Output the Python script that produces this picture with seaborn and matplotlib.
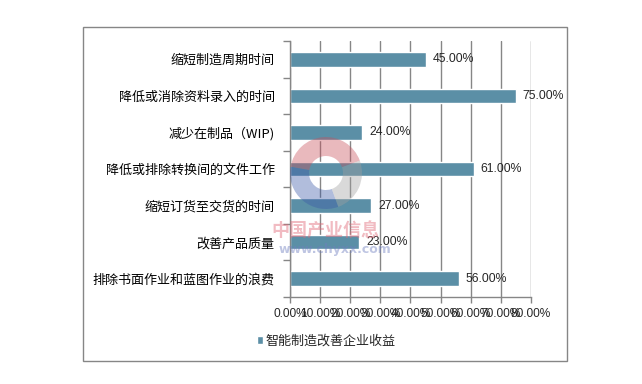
import matplotlib
matplotlib.use('Agg')
import matplotlib.pyplot as plt
from matplotlib.patches import Rectangle, Wedge
from matplotlib.ticker import FixedLocator, FuncFormatter
import seaborn as sns

categories = ['缩短制造周期时间', '降低或消除资料录入的时间', '减少在制品（WIP)',
              '降低或排除转换间的文件工作', '缩短订货至交货的时间', '改善产品质量',
              '排除书面作业和蓝图作业的浪费']
values = [45.0, 75.0, 24.0, 61.0, 27.0, 23.0, 56.0]
series_name = '智能制造改善企业收益'
x_ticks = [0, 10, 20, 30, 40, 50, 60, 70, 80]

sns.set_style('white')
plt.rcParams['font.family'] = ['Noto Sans CJK SC', 'DejaVu Sans']

bar_color = '#5B8FA6'
grid_color = '#868686'

fig = plt.figure(figsize=(6.42, 3.84), dpi=100)
ax = fig.add_axes([0.4517, 0.2266, 0.3754, 0.6667])

sns.barplot(x=values, y=categories, color=bar_color, width=0.4,
            orient='h', label=series_name, ax=ax, saturation=1)

ax.set_xlim(0, 80)
ax.set_ylim(len(categories) - 0.5, -0.5)
ax.xaxis.set_major_locator(FixedLocator(x_ticks))
ax.xaxis.set_major_formatter(FuncFormatter(lambda v, p: f'{v:.2f}%'))
ax.grid(axis='x', color=grid_color, linewidth=1)
ax.set_axisbelow(True)

for s in ['top', 'right']:
    ax.spines[s].set_visible(False)
for s in ['left', 'bottom']:
    ax.spines[s].set_color(grid_color)
    ax.spines[s].set_linewidth(1)

# tick marks between categories on the y axis
ax.yaxis.set_minor_locator(FixedLocator([i - 0.5 for i in range(len(categories) + 1)]))
ax.tick_params(axis='y', which='major', length=0, pad=11, labelsize=9.4, labelcolor='#000000')
ax.tick_params(axis='y', which='minor', length=5, width=1, color=grid_color, direction='out', left=True)
ax.tick_params(axis='x', which='major', length=4, width=1, color=grid_color, direction='out',
               bottom=True, pad=4)
for lbl in ax.get_xticklabels():
    lbl.set_fontfamily(['Liberation Sans', 'DejaVu Sans'])
    lbl.set_fontsize(8.6)

ax.set_xlabel('')
ax.set_ylabel('')

for cont in ax.containers:
    labels = [f'{v:.2f}%' for v in values]
    txts = ax.bar_label(cont, labels=labels, padding=5, fontsize=8.8)
    for t in txts:
        t.set_fontfamily(['Liberation Sans', 'DejaVu Sans'])

ax.legend(loc='center', bbox_to_anchor=(0.508, 0.112), bbox_transform=fig.transFigure,
          frameon=False, handlelength=0.5, handleheight=0.5, handletextpad=0.15,
          fontsize=9.4)

# outer chart border
fig.patches.append(Rectangle((83 / 642, 1 - 361 / 384), (567 - 83) / 642, (361 - 27) / 384,
                             transform=fig.transFigure, fill=False,
                             edgecolor=grid_color, linewidth=1))

# watermark
cx, cy, r = 3.26, 3.84 - 1.73, 0.36
for t1, t2, c in [(20, 170, '#c8505c'), (170, 290, '#3c5aa8'), (290, 380, '#a0a0a0')]:
    fig.patches.append(Wedge((cx, cy), r, t1, t2, width=0.19, transform=fig.dpi_scale_trans,
                             facecolor=c, alpha=0.4, edgecolor='none'))
fig.text(325 / 642, 1 - 231 / 384, '中国产业信息', ha='center', va='center', fontsize=13,
         fontweight='bold', color='#e06a78', alpha=0.45)
fig.text(335 / 642, 1 - 249 / 384, 'www.chyxx.com', ha='center', va='center', fontsize=9,
         fontweight='bold', color='#6f7fc0', alpha=0.45, family=['DejaVu Sans'])

fig.savefig('out.png', dpi=100)
